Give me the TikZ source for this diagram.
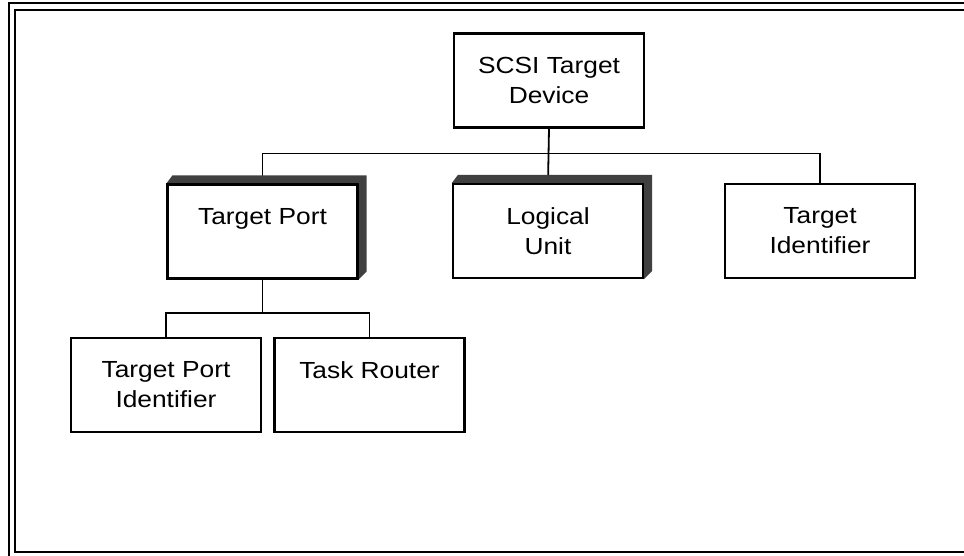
\documentclass[tikz,border=0pt]{standalone}
\usepackage{fontspec}
\setmainfont{Liberation Sans}
\newfontfamily\boxfont[FakeStretch=1.13]{Liberation Sans}
\usetikzlibrary{calc}
\definecolor{shadowgray}{HTML}{404040}
\pgfdeclarelayer{conn}
\pgfdeclarelayer{shade}
\pgfsetlayers{conn,shade,main}
\begin{document}
\begin{tikzpicture}[x=1pt,y=-1pt,
  box/.style={draw=black, fill=white, line width=2.2pt, minimum width=190pt, minimum height=94pt,
    inner sep=0pt, align=center, font=\boxfont\fontsize{23.3}{30}\selectfont},
  link/.style={line width=1.8pt},
  frameline/.style={line width=2pt},
  shadowfill/.style={fill=shadowgray}]
\useasboundingbox (0,0) rectangle (964,556);
\clip (0,0) rectangle (964,556);
% frame
\draw[frameline] (9,570) -- (9,3) -- (980,3);
\draw[frameline] (980,10) -- (14.5,10) -- (14.5,551.5) -- (980,551.5);
% boxes
\node[box] (top) at (549,80.5) {SCSI Target\\Device};
\node[box] (tp) at (262.5,231.5) {Target Port\\\mbox{}};
\node[box] (lu) at (548,231) {Logical\\Unit};
\node[box] (ti) at (820,231) {Target\\Identifier};
\node[box] (tpi) at (166,385) {Target Port\\Identifier};
\node[box] (tr) at (369.5,385) {Task Router\\\mbox{}};
% shadows
\begin{pgfonlayer}{shade}
\foreach \n in {tp,lu}{
  \fill[shadowfill] (\n.north west) -- ++(6,-8) -- ($(\n.north east)+(8,-8)$)
     -- ($(\n.south east)+(8,-8)$) -- (\n.south east) -- cycle;
}
\end{pgfonlayer}
% connectors
\begin{pgfonlayer}{conn}
\coordinate (j) at ($(top.south)+(0,25)$);
\draw[link] (top.south) -- (lu.north);
\draw[link] (tp.north) |- (j) -| (ti.north);
\coordinate (k) at ($(tp.south)+(0,33)$);
\draw[link] (tp.south) -- (k);
\draw[link] (tpi.north) |- (k) -| (tr.north);
\end{pgfonlayer}
\end{tikzpicture}
\end{document}
